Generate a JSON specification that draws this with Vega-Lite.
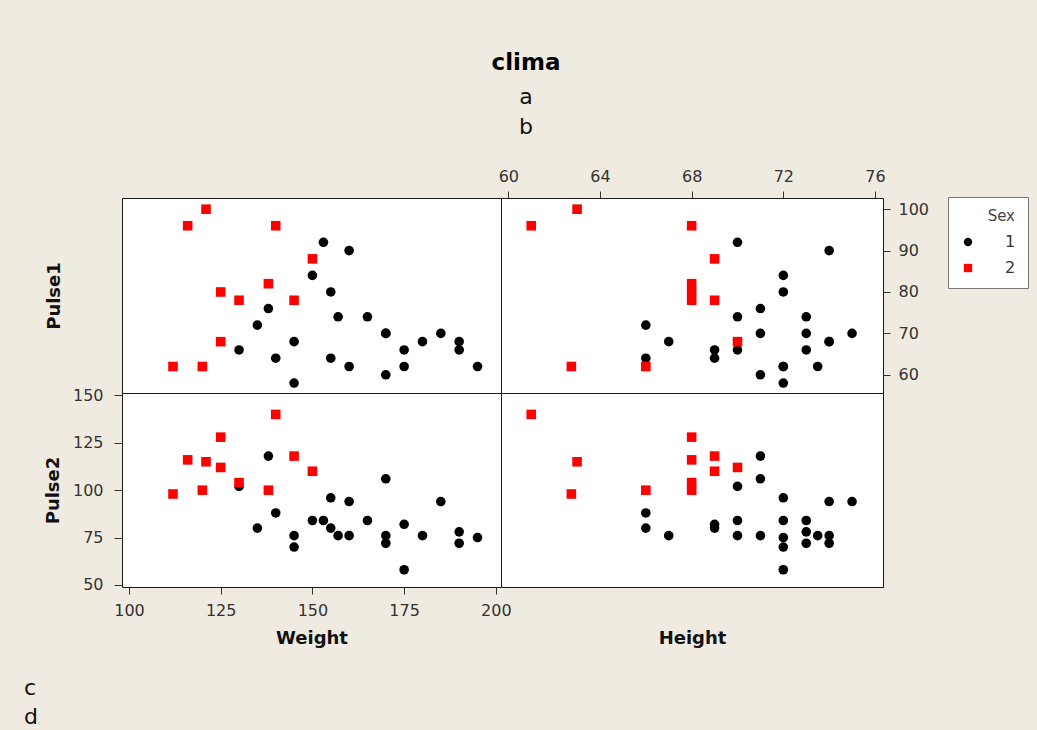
{
  "$schema": "https://vega.github.io/schema/vega-lite/v6.json",
  "background": "#EFEBE0",
  "padding": {"top": 51, "left": 23, "right": 9, "bottom": 1},
  "title": {
    "text": "clima",
    "subtitle": ["a", "b"],
    "fontSize": 23,
    "fontWeight": "bold",
    "color": "#000000",
    "subtitleFontSize": 22,
    "subtitleColor": "#111111",
    "subtitleLineHeight": 30,
    "subtitlePadding": 12,
    "anchor": "middle",
    "offset": 30
  },
  "data": {
    "values": [
      {"Pulse1": 64, "Pulse2": 88, "Sex": 1, "Height": 66, "Weight": 140},
      {"Pulse1": 58, "Pulse2": 70, "Sex": 1, "Height": 72, "Weight": 145},
      {"Pulse1": 62, "Pulse2": 76, "Sex": 1, "Height": 73.5, "Weight": 160},
      {"Pulse1": 66, "Pulse2": 78, "Sex": 1, "Height": 73, "Weight": 190},
      {"Pulse1": 64, "Pulse2": 80, "Sex": 1, "Height": 69, "Weight": 155},
      {"Pulse1": 74, "Pulse2": 84, "Sex": 1, "Height": 73, "Weight": 165},
      {"Pulse1": 84, "Pulse2": 84, "Sex": 1, "Height": 72, "Weight": 150},
      {"Pulse1": 68, "Pulse2": 72, "Sex": 1, "Height": 74, "Weight": 190},
      {"Pulse1": 62, "Pulse2": 75, "Sex": 1, "Height": 72, "Weight": 195},
      {"Pulse1": 76, "Pulse2": 118, "Sex": 1, "Height": 71, "Weight": 138},
      {"Pulse1": 90, "Pulse2": 94, "Sex": 1, "Height": 74, "Weight": 160},
      {"Pulse1": 80, "Pulse2": 96, "Sex": 1, "Height": 72, "Weight": 155},
      {"Pulse1": 92, "Pulse2": 84, "Sex": 1, "Height": 70, "Weight": 153},
      {"Pulse1": 68, "Pulse2": 76, "Sex": 1, "Height": 67, "Weight": 145},
      {"Pulse1": 60, "Pulse2": 76, "Sex": 1, "Height": 71, "Weight": 170},
      {"Pulse1": 62, "Pulse2": 58, "Sex": 1, "Height": 72, "Weight": 175},
      {"Pulse1": 66, "Pulse2": 82, "Sex": 1, "Height": 69, "Weight": 175},
      {"Pulse1": 70, "Pulse2": 72, "Sex": 1, "Height": 73, "Weight": 170},
      {"Pulse1": 68, "Pulse2": 76, "Sex": 1, "Height": 74, "Weight": 180},
      {"Pulse1": 72, "Pulse2": 80, "Sex": 1, "Height": 66, "Weight": 135},
      {"Pulse1": 70, "Pulse2": 106, "Sex": 1, "Height": 71, "Weight": 170},
      {"Pulse1": 74, "Pulse2": 76, "Sex": 1, "Height": 70, "Weight": 157},
      {"Pulse1": 66, "Pulse2": 102, "Sex": 1, "Height": 70, "Weight": 130},
      {"Pulse1": 70, "Pulse2": 94, "Sex": 1, "Height": 75, "Weight": 185},
      {"Pulse1": 96, "Pulse2": 140, "Sex": 2, "Height": 61, "Weight": 140},
      {"Pulse1": 62, "Pulse2": 100, "Sex": 2, "Height": 66, "Weight": 120},
      {"Pulse1": 78, "Pulse2": 104, "Sex": 2, "Height": 68, "Weight": 130},
      {"Pulse1": 82, "Pulse2": 100, "Sex": 2, "Height": 68, "Weight": 138},
      {"Pulse1": 100, "Pulse2": 115, "Sex": 2, "Height": 63, "Weight": 121},
      {"Pulse1": 68, "Pulse2": 112, "Sex": 2, "Height": 70, "Weight": 125},
      {"Pulse1": 96, "Pulse2": 116, "Sex": 2, "Height": 68, "Weight": 116},
      {"Pulse1": 78, "Pulse2": 118, "Sex": 2, "Height": 69, "Weight": 145},
      {"Pulse1": 88, "Pulse2": 110, "Sex": 2, "Height": 69, "Weight": 150},
      {"Pulse1": 62, "Pulse2": 98, "Sex": 2, "Height": 62.75, "Weight": 112},
      {"Pulse1": 80, "Pulse2": 128, "Sex": 2, "Height": 68, "Weight": 125}
    ]
  },
  "columns": 2,
  "spacing": 0,
  "bounds": "flush",
  "concat": [
    {
      "width": 379,
      "height": 195,
      "mark": {"type": "point", "filled": true, "opacity": 1, "size": 92},
      "encoding": {
        "x": {"field": "Weight", "type": "quantitative", "scale": {"domain": [98.1, 201.4], "nice": false, "zero": false}, "axis": null},
        "y": {"field": "Pulse1", "type": "quantitative", "scale": {"domain": [55.6, 102.7], "nice": false, "zero": false},
              "axis": {"title": "Pulse1", "labels": false, "ticks": false, "domain": false, "titlePadding": 59}},
        "color": {"field": "Sex", "type": "nominal", "scale": {"domain": [1, 2], "range": ["#000000", "#FF0000"]}, "legend": {"title": "Sex"}},
        "shape": {"field": "Sex", "type": "nominal", "scale": {"domain": [1, 2], "range": ["circle", "square"]}, "legend": {"title": "Sex"}}
      }
    },
    {
      "width": 382,
      "height": 195,
      "mark": {"type": "point", "filled": true, "opacity": 1, "size": 92},
      "encoding": {
        "x": {"field": "Height", "type": "quantitative", "scale": {"domain": [59.68, 76.35], "nice": false, "zero": false},
              "axis": {"orient": "top", "title": null, "values": [60, 64, 68, 72, 76], "tickSize": 7, "labelPadding": 7}},
        "y": {"field": "Pulse1", "type": "quantitative", "scale": {"domain": [55.6, 102.7], "nice": false, "zero": false},
              "axis": {"orient": "right", "title": null, "values": [60, 70, 80, 90, 100], "tickSize": 7, "labelPadding": 8}},
        "color": {"field": "Sex", "type": "nominal", "scale": {"domain": [1, 2], "range": ["#000000", "#FF0000"]}, "legend": {"title": "Sex"}},
        "shape": {"field": "Sex", "type": "nominal", "scale": {"domain": [1, 2], "range": ["circle", "square"]}, "legend": {"title": "Sex"}}
      }
    },
    {
      "width": 379,
      "height": 194,
      "title": {"text": ["c", "d"], "orient": "bottom", "anchor": "start", "frame": "group", "dx": -98, "offset": 31,
                "fontSize": 22, "fontWeight": "normal", "lineHeight": 29, "color": "#111111"},
      "mark": {"type": "point", "filled": true, "opacity": 1, "size": 92},
      "encoding": {
        "x": {"field": "Weight", "type": "quantitative", "scale": {"domain": [98.1, 201.4], "nice": false, "zero": false},
              "axis": {"title": "Weight", "values": [100, 125, 150, 175, 200], "tickSize": 7, "labelPadding": 8, "titlePadding": 11}},
        "y": {"field": "Pulse2", "type": "quantitative", "scale": {"domain": [48.9, 151.3], "nice": false, "zero": false},
              "axis": {"title": "Pulse2", "values": [50, 75, 100, 125, 150], "tickSize": 8, "labelPadding": 11, "titlePadding": 10}},
        "color": {"field": "Sex", "type": "nominal", "scale": {"domain": [1, 2], "range": ["#000000", "#FF0000"]}, "legend": {"title": "Sex"}},
        "shape": {"field": "Sex", "type": "nominal", "scale": {"domain": [1, 2], "range": ["circle", "square"]}, "legend": {"title": "Sex"}}
      }
    },
    {
      "width": 382,
      "height": 194,
      "mark": {"type": "point", "filled": true, "opacity": 1, "size": 92},
      "encoding": {
        "x": {"field": "Height", "type": "quantitative", "scale": {"domain": [59.68, 76.35], "nice": false, "zero": false},
              "axis": {"title": "Height", "labels": false, "ticks": false, "domain": false, "titlePadding": 42}},
        "y": {"field": "Pulse2", "type": "quantitative", "scale": {"domain": [48.9, 151.3], "nice": false, "zero": false}, "axis": null},
        "color": {"field": "Sex", "type": "nominal", "scale": {"domain": [1, 2], "range": ["#000000", "#FF0000"]}, "legend": {"title": "Sex"}},
        "shape": {"field": "Sex", "type": "nominal", "scale": {"domain": [1, 2], "range": ["circle", "square"]}, "legend": {"title": "Sex"}}
      }
    }
  ],
  "config": {
    "font": "DejaVu Sans",
    "view": {"fill": "#FFFFFF", "stroke": "#1A1A1A", "strokeWidth": 1},
    "axis": {
      "grid": false,
      "domain": false,
      "labelFontSize": 16,
      "labelColor": "#333333",
      "labelFlush": false,
      "tickColor": "#333333",
      "tickWidth": 1,
      "titleFontSize": 18,
      "titleFontWeight": "bold",
      "titleColor": "#111111"
    },
    "legend": {
      "orient": "none",
      "legendX": 826,
      "legendY": -1,
      "fillColor": "#FFFFFF",
      "strokeColor": "#777777",
      "padding": 12,
      "titleFontSize": 15,
      "titleFontWeight": "normal",
      "titleColor": "#444444",
      "titleAnchor": "end",
      "titlePadding": 10,
      "labelFontSize": 16,
      "labelColor": "#333333",
      "labelAlign": "left",
      "labelOffset": 29,
      "symbolSize": 70,
      "rowPadding": 10,
      "symbolStrokeWidth": 0
    }
  }
}
